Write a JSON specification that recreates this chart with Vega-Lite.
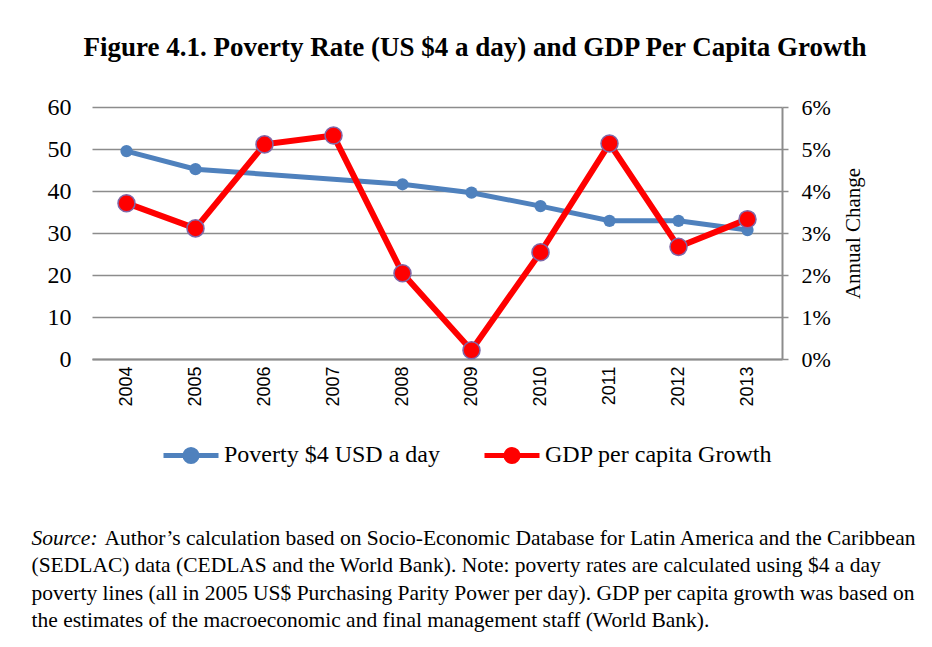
{
  "$schema": "https://vega.github.io/schema/vega-lite/v6.json",
  "width": 690,
  "height": 252,
  "autosize": {"type": "none"},
  "padding": {"left": 92, "top": 107, "right": 150, "bottom": 288},
  "background": "white",
  "title": {
    "text": "Figure 4.1. Poverty Rate (US $4 a day) and GDP Per Capita Growth",
    "font": "Liberation Serif",
    "fontSize": 27,
    "fontWeight": "bold",
    "color": "black",
    "anchor": "middle",
    "baseline": "alphabetic",
    "dx": 38,
    "offset": 12
  },
  "datasets": {
    "poverty": [
      {"year": "2004", "rate": 49.5},
      {"year": "2005", "rate": 45.2},
      {"year": "2008", "rate": 41.6},
      {"year": "2009", "rate": 39.6},
      {"year": "2010", "rate": 36.4},
      {"year": "2011", "rate": 32.9},
      {"year": "2012", "rate": 32.9},
      {"year": "2013", "rate": 30.7}
    ],
    "gdp": [
      {"year": "2004", "growth": 0.0371},
      {"year": "2005", "growth": 0.0311},
      {"year": "2006", "growth": 0.0511},
      {"year": "2007", "growth": 0.0532},
      {"year": "2008", "growth": 0.0204},
      {"year": "2009", "growth": 0.0021},
      {"year": "2010", "growth": 0.0254},
      {"year": "2011", "growth": 0.0513},
      {"year": "2012", "growth": 0.0267},
      {"year": "2013", "growth": 0.0333}
    ]
  },
  "layer": [
    {
      "data": {"name": "poverty"},
      "encoding": {
        "x": {
          "field": "year",
          "type": "ordinal",
          "scale": {"type": "point", "padding": 0.5},
          "axis": {
            "orient": "bottom",
            "labelAngle": -90,
            "labelFont": "Liberation Sans",
            "labelFontSize": 18,
            "labelColor": "black",
            "labelPadding": 7,
            "ticks": false,
            "domain": true,
            "domainColor": "#8c8c8c",
            "domainWidth": 2,
            "grid": false,
            "title": "Author’s calculation based on Socio-Economic Database for Latin America and the Caribbean",
            "titleX": 12,
            "titleY": 168,
            "titleAngle": 0,
            "titleAlign": "left",
            "titleAnchor": "start",
            "titleBaseline": "top",
            "titleFont": "Liberation Serif",
            "titleFontSize": 21.5,
            "titleFontWeight": "normal",
            "titleColor": "black",
            "titleLimit": 1000
          }
        },
        "y": {
          "field": "rate",
          "type": "quantitative",
          "scale": {"domain": [0, 60]},
          "axis": {
            "orient": "left",
            "values": [0, 10, 20, 30, 40, 50, 60],
            "grid": true,
            "gridColor": "#8c8c8c",
            "gridWidth": 1.5,
            "domain": false,
            "ticks": false,
            "labelFont": "Liberation Serif",
            "labelFontSize": 24,
            "labelColor": "black",
            "labelPadding": 21,
            "title": "Source:",
            "titleX": -61,
            "titleY": 420,
            "titleAngle": 0,
            "titleAlign": "left",
            "titleAnchor": "start",
            "titleBaseline": "top",
            "titleFont": "Liberation Serif",
            "titleFontStyle": "italic",
            "titleFontSize": 21.5,
            "titleFontWeight": "normal",
            "titleColor": "black"
          }
        },
        "color": {
          "datum": "Poverty $4 USD a day",
          "scale": {
            "domain": ["Poverty $4 USD a day", "GDP per capita Growth"],
            "range": ["#4F81BD", "#FF0000"]
          },
          "legend": {
            "title": null,
            "orient": "none",
            "legendX": 69,
            "legendY": 318,
            "direction": "horizontal",
            "symbolType": "M-1,0L1,0M-0.22,0A0.22,0.22,0,1,1,0.22,0A0.22,0.22,0,1,1,-0.22,0Z",
            "symbolSize": 3025,
            "symbolStrokeWidth": 5,
            "labelFont": "Liberation Serif",
            "labelFontSize": 24,
            "labelColor": "black",
            "labelOffset": 3,
            "labelLimit": 400,
            "columnPadding": 34
          }
        }
      },
      "layer": [
        {"mark": {"type": "line", "strokeWidth": 5}},
        {"mark": {"type": "point", "filled": true, "size": 150, "opacity": 1}}
      ]
    },
    {
      "data": {"name": "gdp"},
      "encoding": {
        "x": {
          "field": "year",
          "type": "ordinal",
          "axis": {
            "orient": "bottom",
            "labels": false,
            "ticks": false,
            "domain": false,
            "grid": false,
            "title": [
              "(SEDLAC) data (CEDLAS and the World Bank). Note: poverty rates are calculated using $4 a day",
              "poverty lines (all in 2005 US$ Purchasing Parity Power per day). GDP per capita growth was based on",
              "the estimates of the macroeconomic and final management staff (World Bank)."
            ],
            "titleX": -61,
            "titleY": 195.5,
            "titleAngle": 0,
            "titleAlign": "left",
            "titleAnchor": "start",
            "titleBaseline": "top",
            "titleFont": "Liberation Serif",
            "titleFontSize": 21.5,
            "titleFontWeight": "normal",
            "titleLineHeight": 27.5,
            "titleColor": "black",
            "titleLimit": 1000
          }
        },
        "y": {
          "field": "growth",
          "type": "quantitative",
          "scale": {"domain": [0, 0.06]},
          "axis": {
            "orient": "right",
            "values": [0, 0.01, 0.02, 0.03, 0.04, 0.05, 0.06],
            "format": ".0%",
            "grid": false,
            "domain": true,
            "domainColor": "#8c8c8c",
            "domainWidth": 2,
            "ticks": true,
            "tickColor": "#8c8c8c",
            "tickSize": 6,
            "tickWidth": 1.5,
            "labelFont": "Liberation Serif",
            "labelFontSize": 22,
            "labelColor": "black",
            "labelPadding": 13,
            "title": "Annual Change",
            "titleFont": "Liberation Serif",
            "titleFontSize": 21,
            "titleFontWeight": "normal",
            "titleAngle": -90,
            "titlePadding": 33,
            "titleColor": "black"
          }
        },
        "color": {"datum": "GDP per capita Growth"}
      },
      "layer": [
        {"mark": {"type": "line", "strokeWidth": 6}},
        {"mark": {"type": "point", "filled": true, "size": 290, "opacity": 1, "stroke": "#7F67A8", "strokeWidth": 1.5}}
      ]
    }
  ],
  "resolve": {"scale": {"y": "independent"}, "axis": {"x": "independent"}},
  "config": {
    "view": {"stroke": null}
  }
}
